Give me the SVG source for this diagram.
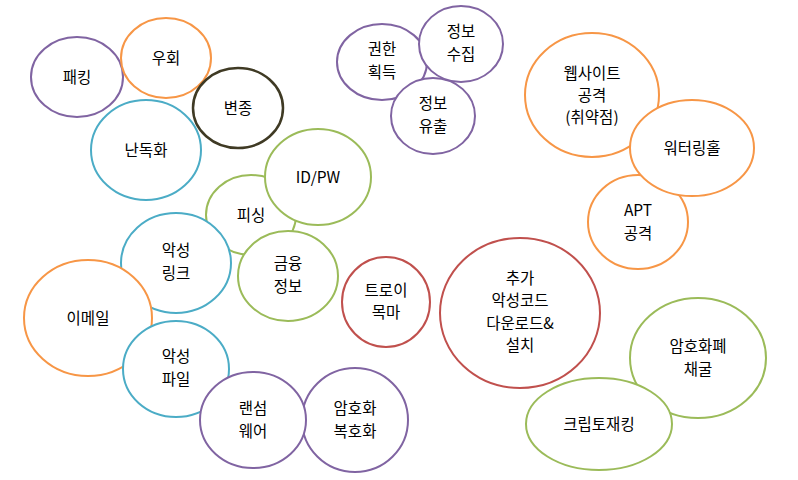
<svg xmlns="http://www.w3.org/2000/svg" width="798" height="480" viewBox="0 0 798 480">
<style>
ellipse{fill:#fff;stroke-width:2}
text{font-family:"Noto Sans CJK KR","Noto Sans",sans-serif;font-size:15.5px;fill:#000;text-anchor:middle}
.p{stroke:#8064a2}.o{stroke:#f79646}.t{stroke:#4bacc6}.g{stroke:#9bbb59}.r{stroke:#c0504d}.d{stroke:#3f3a24;stroke-width:2.5}
</style>
<rect width="798" height="480" fill="#fff"/>
<g id="n-packing"><ellipse class="p" cx="77" cy="77" rx="46" ry="40"/><text x="77" y="83">패킹</text></g>
<g id="n-bypass"><ellipse class="o" cx="166" cy="58" rx="45" ry="40"/><text x="166" y="64">우회</text></g>
<g id="n-obf"><ellipse class="t" cx="146" cy="150" rx="55" ry="50"/><text x="146" y="156">난독화</text></g>
<g id="n-variant"><ellipse class="d" cx="238" cy="108" rx="45" ry="40"/><text x="238" y="114">변종</text></g>
<g id="n-phish"><ellipse class="g" cx="251" cy="215" rx="45" ry="40"/><text x="251" y="221">피싱</text></g>
<g id="n-idpw"><ellipse class="g" cx="318" cy="177" rx="53" ry="48"/><text x="318" y="183">ID/PW</text></g>
<g id="n-link"><ellipse class="t" cx="176" cy="263" rx="55" ry="50"/><text x="176" y="256">악성</text><text x="176" y="279">링크</text></g>
<g id="n-fin"><ellipse class="g" cx="288" cy="276" rx="50" ry="45"/><text x="288" y="269">금융</text><text x="288" y="292">정보</text></g>
<g id="n-email"><ellipse class="o" cx="88" cy="318" rx="64" ry="58"/><text x="88" y="324">이메일</text></g>
<g id="n-file"><ellipse class="t" cx="176" cy="369" rx="53" ry="48"/><text x="176" y="362">악성</text><text x="176" y="385">파일</text></g>
<g id="n-crypt"><ellipse class="p" cx="355" cy="420" rx="53" ry="52"/><text x="355" y="414">암호화</text><text x="355" y="437">복호화</text></g>
<g id="n-ransom"><ellipse class="p" cx="253" cy="420" rx="53" ry="48"/><text x="253" y="414">랜섬</text><text x="253" y="437">웨어</text></g>
<g id="n-priv"><ellipse class="p" cx="382" cy="62" rx="45" ry="38"/><text x="382" y="55">권한</text><text x="382" y="78">획득</text></g>
<g id="n-leak"><ellipse class="p" cx="433" cy="116" rx="42" ry="38"/><text x="433" y="109">정보</text><text x="433" y="132">유출</text></g>
<g id="n-collect"><ellipse class="p" cx="461" cy="44" rx="42" ry="38"/><text x="461" y="37">정보</text><text x="461" y="60">수집</text></g>
<g id="n-web"><ellipse class="o" cx="592" cy="95" rx="67" ry="62"/><text x="592" y="79">웹사이트</text><text x="592" y="101">공격</text><text x="592" y="123">(취약점)</text></g>
<g id="n-apt"><ellipse class="o" cx="638" cy="222" rx="50" ry="47"/><text x="638" y="216">APT</text><text x="638" y="239">공격</text></g>
<g id="n-water"><ellipse class="o" cx="692" cy="148" rx="62" ry="48"/><text x="692" y="154">워터링홀</text></g>
<g id="n-trojan"><ellipse class="r" cx="386" cy="302" rx="44" ry="45"/><text x="386" y="296">트로이</text><text x="386" y="318">목마</text></g>
<g id="n-add"><ellipse class="r" cx="520" cy="313" rx="80" ry="75"/><text x="520" y="284">추가</text><text x="520" y="306">악성코드</text><text x="520" y="329">다운로드&amp;</text><text x="520" y="351">설치</text></g>
<g id="n-mining"><ellipse class="g" cx="698" cy="358" rx="68" ry="60"/><text x="698" y="352">암호화폐</text><text x="698" y="375">채굴</text></g>
<g id="n-jack"><ellipse class="g" cx="599" cy="424" rx="73" ry="46"/><text x="599" y="430">크립토재킹</text></g>
<g id="connectors"/>
</svg>
